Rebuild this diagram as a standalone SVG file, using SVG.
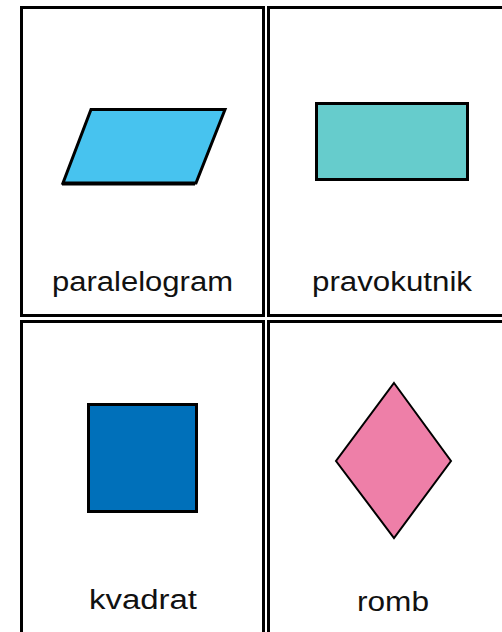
<svg xmlns="http://www.w3.org/2000/svg" width="502" height="632" viewBox="0 0 502 632">
<style>
.card{fill:#fff;stroke:#000;stroke-width:3}
.shape{stroke:#000;stroke-width:3}
.lbl{font-family:"Liberation Sans",Arial,sans-serif;font-size:27px;fill:#111;text-anchor:start}
</style>
<rect width="502" height="632" fill="#fff"/>
<g id="card-paralelogram">
<rect class="card" x="21.5" y="7.5" width="242" height="308"/>
<polygon class="shape" points="91,109.5 225,109.5 196,183 63,183" fill="#47C3EF"/>
<line x1="62" y1="184.5" x2="195" y2="184.5" stroke="#000" stroke-width="2"/>
<text class="lbl" x="52" y="291" textLength="181" lengthAdjust="spacingAndGlyphs">paralelogram</text>
</g>
<g id="card-pravokutnik">
<rect class="card" x="268.5" y="7.5" width="240" height="308"/>
<rect class="shape" x="316.5" y="103.5" width="151" height="76" fill="#66CCCC"/>
<text class="lbl" x="312" y="291" textLength="160" lengthAdjust="spacingAndGlyphs">pravokutnik</text>
</g>
<g id="card-kvadrat">
<rect class="card" x="21.5" y="321.5" width="242" height="320"/>
<rect class="shape" x="88.5" y="404.5" width="108" height="107" fill="#0070BA"/>
<text class="lbl" x="89" y="609" textLength="108" lengthAdjust="spacingAndGlyphs">kvadrat</text>
</g>
<g id="card-romb">
<rect class="card" x="268.5" y="321.5" width="240" height="320"/>
<polygon points="394,383 451,461 394,538 336,461" fill="#EE7FA8" stroke="#000" stroke-width="2"/>
<text class="lbl" x="357" y="611" textLength="72" lengthAdjust="spacingAndGlyphs">romb</text>
</g>
<g id="connectors"/>
</svg>
